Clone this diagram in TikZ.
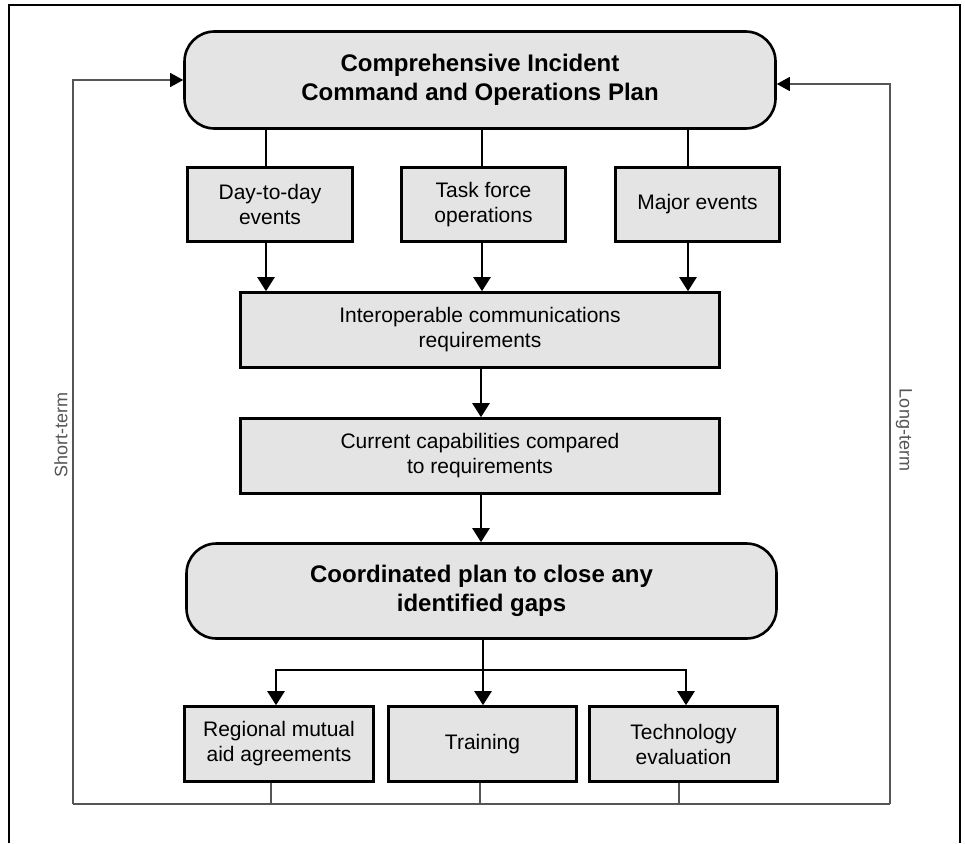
\documentclass[tikz,border=0pt]{standalone}
\usepackage{fontspec}
\setmainfont{Liberation Sans}
\usetikzlibrary{arrows.meta}
\definecolor{boxfill}{HTML}{E4E4E4}
\definecolor{fbline}{HTML}{555555}
\begin{document}
\begin{tikzpicture}[x=1pt,y=-1pt,
  box/.style={draw=black, line width=2.6pt, fill=boxfill, inner sep=0pt, align=center,
    font=\fontsize{21}{25}\selectfont},
  rbox/.style={box, rounded corners=30pt, font=\bfseries\fontsize{24}{29}\selectfont},
  arr/.style={line width=2.4pt, -{Triangle[width=17pt,length=14pt]}},
  plainln/.style={line width=2.4pt},
  fb/.style={draw=fbline, line width=1.1pt},
  fbarr/.style={fb, -{Triangle[width=14pt,length=13pt,color=black]}},
  side/.style={text=fbline, inner sep=0pt, font=\fontsize{18}{22}\selectfont}]
\useasboundingbox (0,0) rectangle (965,843);
% outer frame
\draw[line width=1.2pt] (9,843) -- (9,5) -- (960,5) -- (960,843);

% nodes
\node[rbox, minimum width=591pt, minimum height=97pt] (top) at (480,80)
  {Comprehensive Incident\\Command and Operations Plan};
\node[box, minimum width=165pt, minimum height=74pt] (d2d) at (270,204.5) {Day-to-day\\events};
\node[box, minimum width=164pt, minimum height=74pt] (task) at (483.5,204.5) {Task force\\operations};
\node[box, minimum width=164pt, minimum height=74pt] (major) at (697.5,204.5) {Major events};
\node[box, minimum width=479pt, minimum height=75pt] (inter) at (480,330)
  {Interoperable communications\\requirements};
\node[box, minimum width=479pt, minimum height=75pt] (curr) at (480,456)
  {Current capabilities compared\\to requirements};
\node[rbox, minimum width=590pt, minimum height=95pt] (coord) at (481.5,591)
  {Coordinated plan to close any\\identified gaps};
\node[box, minimum width=189pt, minimum height=75pt] (reg) at (279,744)
  {Regional mutual\\aid agreements};
\node[box, minimum width=188pt, minimum height=75pt] (train) at (482.5,744) {Training};
\node[box, minimum width=188pt, minimum height=75pt] (tech) at (683.5,744)
  {Technology\\evaluation};

\node[side, rotate=90] (st) at (61,435) {Short-term};
\node[side, rotate=-90] (lt) at (904,430) {Long-term};

% column coordinates
\coordinate (c1) at (266,0);
\coordinate (c2) at (482,0);
\coordinate (c3) at (688,0);
\coordinate (cm) at (481,0);
\coordinate (b1) at (276,670);
\coordinate (b2) at (483,670);
\coordinate (b3) at (686,670);

% top to event boxes
\draw[plainln] (top.south -| c1) -- (d2d.north -| c1);
\draw[plainln] (top.south -| c2) -- (task.north -| c2);
\draw[plainln] (top.south -| c3) -- (major.north -| c3);
% event boxes to interop
\draw[arr] (d2d.south -| c1) -- (inter.north -| c1);
\draw[arr] (task.south -| c2) -- (inter.north -| c2);
\draw[arr] (major.south -| c3) -- (inter.north -| c3);
% chain
\draw[arr] (inter.south -| cm) -- (curr.north -| cm);
\draw[arr] (curr.south -| cm) -- (coord.north -| cm);
% branch
\draw[plainln] (coord.south -| b2) -- (b2);
\draw[arr] (b1 -| b2) -- (train.north -| b2);
\draw[arr] (b2) -- (b1) -- (reg.north -| b1);
\draw[arr] (b2) -- (b3) -- (tech.north -| b3);

% feedback loops
\coordinate (bl) at (73,804);
\coordinate (br) at (890,804);
\coordinate (t1) at (271,804);
\coordinate (t2) at (480,804);
\coordinate (t3) at (679,804);
\draw[fb] (bl) -- (br);
\draw[fb] (reg.south -| t1) -- (t1);
\draw[fb] (train.south -| t2) -- (t2);
\draw[fb] (tech.south -| t3) -- (t3);
\draw[fbarr] (bl) |- (top.west);
\draw[fbarr] (br) |- ([yshift=-4pt]top.east);
\end{tikzpicture}
\end{document}
